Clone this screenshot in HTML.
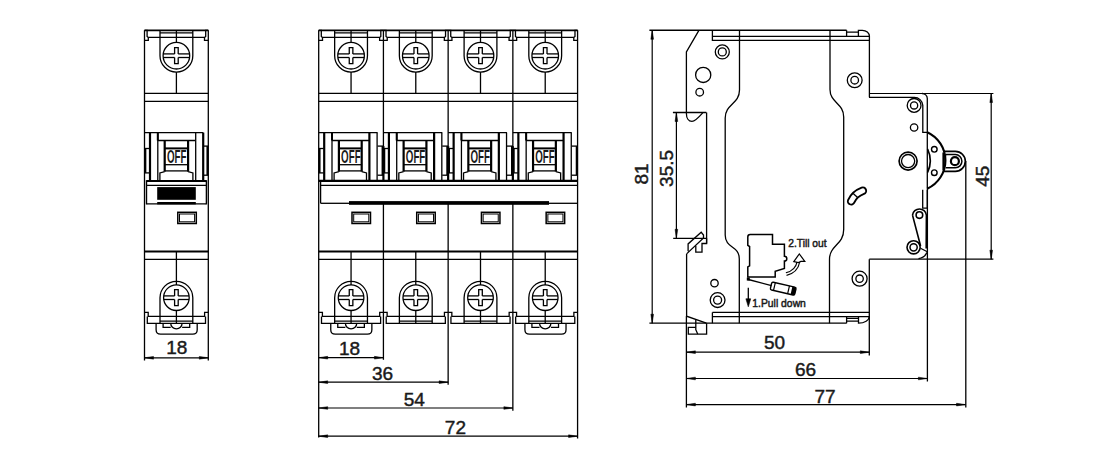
<!DOCTYPE html>
<html><head><meta charset="utf-8">
<style>
html,body{margin:0;padding:0;background:#fff;}
body{width:1100px;height:454px;overflow:hidden;}
svg{display:block;}
text{font-family:"Liberation Sans",sans-serif;fill:#1a1a1a;stroke:#1a1a1a;stroke-width:0.45px;}
.dim{font-size:19px;text-anchor:middle;}
.off{font-size:17.5px;font-weight:bold;stroke-width:0;}
.lbl{font-size:11.5px;stroke-width:0.5px;}
</style></head><body>
<svg width="1100" height="454" viewBox="0 0 1100 454">
<rect x="0" y="0" width="1100" height="454" fill="#fff"/>
<g stroke="#000" fill="none" stroke-linecap="butt" stroke-linejoin="miter">
<path d="M144.50,30.3 H147.10 V36.5 L148.30,37.5 V40.4 H144.50" stroke-width="1.3" fill="none"/>
<path d="M208.30,30.3 H205.70 V36.5 L204.50,37.5 V40.4 H208.30" stroke-width="1.3" fill="none"/>
<line x1="148.30" y1="37.30" x2="204.50" y2="37.30" stroke-width="1.3"/>
<path d="M160.00,30.3 V55.7 A16.4,16.4 0 0 0 192.80,55.7 V30.3" stroke-width="1.3" fill="none"/>
<line x1="160.00" y1="32.80" x2="192.80" y2="32.80" stroke-width="1.3"/>
<line x1="176.40" y1="30.30" x2="176.40" y2="42.40" stroke-width="1.3"/>
<line x1="176.40" y1="72.10" x2="176.40" y2="93.30" stroke-width="1.3"/>
<circle cx="176.40" cy="55.70" r="13.30" stroke-width="1.3" fill="none"/>
<line x1="163.22" y1="53.90" x2="174.60" y2="53.90" stroke-width="1.3"/>
<line x1="178.20" y1="53.90" x2="189.58" y2="53.90" stroke-width="1.3"/>
<line x1="163.22" y1="57.50" x2="174.60" y2="57.50" stroke-width="1.3"/>
<line x1="178.20" y1="57.50" x2="189.58" y2="57.50" stroke-width="1.3"/>
<path d="M174.60,53.90 V47.70 H178.20 V53.90" stroke-width="1.3" fill="none"/>
<path d="M174.60,57.50 V63.70 H178.20 V57.50" stroke-width="1.3" fill="none"/>
<line x1="144.50" y1="93.30" x2="208.30" y2="93.30" stroke-width="1.3"/>
<line x1="144.50" y1="101.30" x2="208.30" y2="101.30" stroke-width="1.3"/>
<line x1="144.50" y1="148.50" x2="149.50" y2="148.50" stroke-width="1.3"/>
<line x1="144.50" y1="172.90" x2="149.50" y2="172.90" stroke-width="1.3"/>
<line x1="145.40" y1="148.50" x2="145.40" y2="172.90" stroke-width="1.9"/>
<line x1="207.40" y1="146.10" x2="207.40" y2="175.20" stroke-width="1.9"/>
<line x1="144.50" y1="132.60" x2="203.30" y2="132.60" stroke-width="1.3"/>
<line x1="150.00" y1="132.60" x2="150.00" y2="180.80" stroke-width="2.2"/>
<line x1="157.80" y1="132.60" x2="157.80" y2="180.80" stroke-width="1.3"/>
<line x1="157.80" y1="132.60" x2="157.80" y2="140.50" stroke-width="2.0"/>
<line x1="157.80" y1="140.50" x2="195.20" y2="140.50" stroke-width="1.3"/>
<line x1="164.70" y1="140.50" x2="164.70" y2="171.60" stroke-width="2.2"/>
<line x1="188.10" y1="140.50" x2="188.10" y2="171.60" stroke-width="2.2"/>
<line x1="164.70" y1="148.40" x2="188.10" y2="148.40" stroke-width="2.0"/>
<line x1="164.70" y1="164.70" x2="188.10" y2="164.70" stroke-width="1.3"/>
<line x1="164.70" y1="170.90" x2="188.10" y2="170.90" stroke-width="1.3"/>
<path d="M164.70,171.6 L159.90,172.9 V180.8" stroke-width="1.3" fill="none"/>
<path d="M188.10,171.6 L192.90,172.9 V180.8" stroke-width="1.3" fill="none"/>
<line x1="195.70" y1="132.60" x2="195.70" y2="180.80" stroke-width="1.3"/>
<line x1="203.20" y1="132.60" x2="203.20" y2="180.80" stroke-width="2.2"/>
<line x1="203.30" y1="146.10" x2="208.30" y2="146.10" stroke-width="1.3"/>
<line x1="203.30" y1="175.20" x2="208.30" y2="175.20" stroke-width="1.3"/>
<text x="166.90" y="162.8" class="off" textLength="19.5" lengthAdjust="spacingAndGlyphs">OFF</text>
<rect x="177.80" y="212.30" width="18.50" height="11.20" stroke-width="1.5" fill="none"/>
<rect x="179.50" y="214.00" width="15.10" height="7.80" stroke-width="1.0" fill="none"/>
<line x1="144.50" y1="251.50" x2="208.30" y2="251.50" stroke-width="2.0"/>
<line x1="144.50" y1="259.30" x2="208.30" y2="259.30" stroke-width="1.3"/>
<line x1="176.40" y1="251.50" x2="176.40" y2="285.00" stroke-width="1.3"/>
<path d="M160.00,323.3 V297.7 A16.4,16.4 0 0 1 192.80,297.7 V323.3" stroke-width="1.3" fill="none"/>
<circle cx="176.40" cy="297.70" r="12.80" stroke-width="1.3" fill="none"/>
<line x1="163.73" y1="295.90" x2="174.60" y2="295.90" stroke-width="1.3"/>
<line x1="178.20" y1="295.90" x2="189.07" y2="295.90" stroke-width="1.3"/>
<line x1="163.73" y1="299.50" x2="174.60" y2="299.50" stroke-width="1.3"/>
<line x1="178.20" y1="299.50" x2="189.07" y2="299.50" stroke-width="1.3"/>
<path d="M174.60,295.90 V289.70 H178.20 V295.90" stroke-width="1.3" fill="none"/>
<path d="M174.60,299.50 V305.70 H178.20 V299.50" stroke-width="1.3" fill="none"/>
<line x1="176.40" y1="310.50" x2="176.40" y2="323.30" stroke-width="1.3"/>
<line x1="160.00" y1="321.20" x2="192.80" y2="321.20" stroke-width="1.3"/>
<path d="M144.50,312.4 H148.20 V316.4 H204.60 V312.4 H208.30" stroke-width="1.3" fill="none"/>
<path d="M147.30,316.4 V323.3 H205.50 V316.4" stroke-width="1.3" fill="none"/>
<path d="M156.10,323.3 V329.70 Q156.10,334.2 160.60,334.2 H192.70 Q197.20,334.2 197.20,329.70 V323.3" stroke-width="1.3" fill="none"/>
<path d="M163.10,323.3 V327.3 H170.70 M182.10,327.3 H189.70 V323.3" stroke-width="1.3" fill="none"/>
<path d="M170.70,323.3 A5.7,5.5 0 0 0 182.10,323.3" stroke-width="1.3" fill="none"/>
<line x1="144.50" y1="30.30" x2="208.30" y2="30.30" stroke-width="1.7"/>
<line x1="144.50" y1="30.30" x2="144.50" y2="360.40" stroke-width="1.3"/>
<line x1="208.30" y1="30.30" x2="208.30" y2="360.40" stroke-width="1.3"/>
<line x1="146.50" y1="181.10" x2="206.40" y2="181.10" stroke-width="2.0"/>
<line x1="146.50" y1="180.20" x2="146.50" y2="204.40" stroke-width="1.4"/>
<line x1="206.40" y1="180.20" x2="206.40" y2="204.40" stroke-width="1.4"/>
<line x1="146.50" y1="185.40" x2="206.40" y2="185.40" stroke-width="1.3"/>
<line x1="146.50" y1="203.80" x2="206.40" y2="203.80" stroke-width="1.3"/>
<rect x="157.20" y="187.10" width="38.60" height="12.70" stroke-width="0" fill="#000" stroke="none"/>
<rect x="157.20" y="202.00" width="38.60" height="2.40" stroke-width="0" fill="#000" stroke="none"/>
<line x1="144.50" y1="357.80" x2="208.30" y2="357.80" stroke-width="1.2"/>
<path d="M144.50,357.80 L153.50,356.45 L153.50,359.15 Z" stroke-width="0.5" fill="#000"/>
<path d="M208.30,357.80 L199.30,356.45 L199.30,359.15 Z" stroke-width="0.5" fill="#000"/>
<text x="176.80" y="354.30" class="dim">18</text>
<path d="M318.70,30.3 H321.30 V36.5 L322.50,37.5 V40.4 H318.70" stroke-width="1.3" fill="none"/>
<path d="M383.42,30.3 H380.82 V36.5 L379.62,37.5 V40.4 H383.42" stroke-width="1.3" fill="none"/>
<line x1="322.50" y1="37.30" x2="379.62" y2="37.30" stroke-width="1.3"/>
<path d="M334.66,30.3 V55.7 A16.4,16.4 0 0 0 367.46,55.7 V30.3" stroke-width="1.3" fill="none"/>
<line x1="334.66" y1="32.80" x2="367.46" y2="32.80" stroke-width="1.3"/>
<line x1="351.06" y1="30.30" x2="351.06" y2="42.40" stroke-width="1.3"/>
<line x1="351.06" y1="72.10" x2="351.06" y2="93.30" stroke-width="1.3"/>
<circle cx="351.06" cy="55.70" r="13.30" stroke-width="1.3" fill="none"/>
<line x1="337.88" y1="53.90" x2="349.26" y2="53.90" stroke-width="1.3"/>
<line x1="352.86" y1="53.90" x2="364.24" y2="53.90" stroke-width="1.3"/>
<line x1="337.88" y1="57.50" x2="349.26" y2="57.50" stroke-width="1.3"/>
<line x1="352.86" y1="57.50" x2="364.24" y2="57.50" stroke-width="1.3"/>
<path d="M349.26,53.90 V47.70 H352.86 V53.90" stroke-width="1.3" fill="none"/>
<path d="M349.26,57.50 V63.70 H352.86 V57.50" stroke-width="1.3" fill="none"/>
<line x1="318.70" y1="93.30" x2="383.42" y2="93.30" stroke-width="1.3"/>
<line x1="318.70" y1="101.30" x2="383.42" y2="101.30" stroke-width="1.3"/>
<line x1="318.70" y1="148.50" x2="323.70" y2="148.50" stroke-width="1.3"/>
<line x1="318.70" y1="172.90" x2="323.70" y2="172.90" stroke-width="1.3"/>
<line x1="319.60" y1="148.50" x2="319.60" y2="172.90" stroke-width="1.9"/>
<line x1="382.52" y1="146.10" x2="382.52" y2="175.20" stroke-width="1.9"/>
<line x1="318.70" y1="132.60" x2="377.50" y2="132.60" stroke-width="1.3"/>
<line x1="324.20" y1="132.60" x2="324.20" y2="180.80" stroke-width="2.2"/>
<line x1="332.00" y1="132.60" x2="332.00" y2="180.80" stroke-width="1.3"/>
<line x1="332.00" y1="132.60" x2="332.00" y2="140.50" stroke-width="2.0"/>
<line x1="332.00" y1="140.50" x2="369.40" y2="140.50" stroke-width="1.3"/>
<line x1="338.90" y1="140.50" x2="338.90" y2="171.60" stroke-width="2.2"/>
<line x1="361.70" y1="140.50" x2="361.70" y2="171.60" stroke-width="2.2"/>
<line x1="338.90" y1="148.40" x2="361.70" y2="148.40" stroke-width="2.0"/>
<line x1="338.90" y1="164.70" x2="361.70" y2="164.70" stroke-width="1.3"/>
<line x1="338.90" y1="170.90" x2="361.70" y2="170.90" stroke-width="1.3"/>
<path d="M338.90,171.6 L334.10,172.9 V180.8" stroke-width="1.3" fill="none"/>
<path d="M361.70,171.6 L366.50,172.9 V180.8" stroke-width="1.3" fill="none"/>
<line x1="369.40" y1="132.60" x2="369.40" y2="180.80" stroke-width="2.2"/>
<line x1="377.10" y1="132.60" x2="377.10" y2="180.80" stroke-width="1.3"/>
<line x1="377.50" y1="146.10" x2="383.42" y2="146.10" stroke-width="1.3"/>
<line x1="377.50" y1="175.20" x2="383.42" y2="175.20" stroke-width="1.3"/>
<text x="341.10" y="162.8" class="off" textLength="19.5" lengthAdjust="spacingAndGlyphs">OFF</text>
<rect x="352.00" y="212.30" width="18.50" height="11.20" stroke-width="1.5" fill="none"/>
<rect x="353.70" y="214.00" width="15.10" height="7.80" stroke-width="1.0" fill="none"/>
<line x1="318.70" y1="251.50" x2="383.42" y2="251.50" stroke-width="2.0"/>
<line x1="318.70" y1="259.30" x2="383.42" y2="259.30" stroke-width="1.3"/>
<line x1="351.06" y1="251.50" x2="351.06" y2="285.00" stroke-width="1.3"/>
<path d="M334.66,323.3 V297.7 A16.4,16.4 0 0 1 367.46,297.7 V323.3" stroke-width="1.3" fill="none"/>
<circle cx="351.06" cy="297.70" r="12.80" stroke-width="1.3" fill="none"/>
<line x1="338.39" y1="295.90" x2="349.26" y2="295.90" stroke-width="1.3"/>
<line x1="352.86" y1="295.90" x2="363.73" y2="295.90" stroke-width="1.3"/>
<line x1="338.39" y1="299.50" x2="349.26" y2="299.50" stroke-width="1.3"/>
<line x1="352.86" y1="299.50" x2="363.73" y2="299.50" stroke-width="1.3"/>
<path d="M349.26,295.90 V289.70 H352.86 V295.90" stroke-width="1.3" fill="none"/>
<path d="M349.26,299.50 V305.70 H352.86 V299.50" stroke-width="1.3" fill="none"/>
<line x1="351.06" y1="310.50" x2="351.06" y2="323.30" stroke-width="1.3"/>
<line x1="334.66" y1="321.20" x2="367.46" y2="321.20" stroke-width="1.3"/>
<path d="M318.70,312.4 H322.40 V316.4 H379.72 V312.4 H383.42" stroke-width="1.3" fill="none"/>
<path d="M321.50,316.4 V323.3 H380.62 V316.4" stroke-width="1.3" fill="none"/>
<path d="M330.76,323.3 V329.70 Q330.76,334.2 335.26,334.2 H367.36 Q371.86,334.2 371.86,329.70 V323.3" stroke-width="1.3" fill="none"/>
<path d="M337.76,323.3 V327.3 H345.36 M356.76,327.3 H364.36 V323.3" stroke-width="1.3" fill="none"/>
<path d="M345.36,323.3 A5.7,5.5 0 0 0 356.76,323.3" stroke-width="1.3" fill="none"/>
<path d="M383.42,30.3 H386.02 V36.5 L387.22,37.5 V40.4 H383.42" stroke-width="1.3" fill="none"/>
<path d="M448.14,30.3 H445.54 V36.5 L444.34,37.5 V40.4 H448.14" stroke-width="1.3" fill="none"/>
<line x1="387.22" y1="37.30" x2="444.34" y2="37.30" stroke-width="1.3"/>
<path d="M399.38,30.3 V55.7 A16.4,16.4 0 0 0 432.18,55.7 V30.3" stroke-width="1.3" fill="none"/>
<line x1="399.38" y1="32.80" x2="432.18" y2="32.80" stroke-width="1.3"/>
<line x1="415.78" y1="30.30" x2="415.78" y2="42.40" stroke-width="1.3"/>
<line x1="415.78" y1="72.10" x2="415.78" y2="93.30" stroke-width="1.3"/>
<circle cx="415.78" cy="55.70" r="13.30" stroke-width="1.3" fill="none"/>
<line x1="402.60" y1="53.90" x2="413.98" y2="53.90" stroke-width="1.3"/>
<line x1="417.58" y1="53.90" x2="428.96" y2="53.90" stroke-width="1.3"/>
<line x1="402.60" y1="57.50" x2="413.98" y2="57.50" stroke-width="1.3"/>
<line x1="417.58" y1="57.50" x2="428.96" y2="57.50" stroke-width="1.3"/>
<path d="M413.98,53.90 V47.70 H417.58 V53.90" stroke-width="1.3" fill="none"/>
<path d="M413.98,57.50 V63.70 H417.58 V57.50" stroke-width="1.3" fill="none"/>
<line x1="383.42" y1="93.30" x2="448.14" y2="93.30" stroke-width="1.3"/>
<line x1="383.42" y1="101.30" x2="448.14" y2="101.30" stroke-width="1.3"/>
<line x1="383.42" y1="148.50" x2="388.42" y2="148.50" stroke-width="1.3"/>
<line x1="383.42" y1="172.90" x2="388.42" y2="172.90" stroke-width="1.3"/>
<line x1="384.32" y1="148.50" x2="384.32" y2="172.90" stroke-width="1.9"/>
<line x1="447.24" y1="146.10" x2="447.24" y2="175.20" stroke-width="1.9"/>
<line x1="383.42" y1="132.60" x2="442.22" y2="132.60" stroke-width="1.3"/>
<line x1="388.92" y1="132.60" x2="388.92" y2="180.80" stroke-width="2.2"/>
<line x1="396.72" y1="132.60" x2="396.72" y2="180.80" stroke-width="1.3"/>
<line x1="396.72" y1="132.60" x2="396.72" y2="140.50" stroke-width="2.0"/>
<line x1="396.72" y1="140.50" x2="434.12" y2="140.50" stroke-width="1.3"/>
<line x1="403.62" y1="140.50" x2="403.62" y2="171.60" stroke-width="2.2"/>
<line x1="426.42" y1="140.50" x2="426.42" y2="171.60" stroke-width="2.2"/>
<line x1="403.62" y1="148.40" x2="426.42" y2="148.40" stroke-width="2.0"/>
<line x1="403.62" y1="164.70" x2="426.42" y2="164.70" stroke-width="1.3"/>
<line x1="403.62" y1="170.90" x2="426.42" y2="170.90" stroke-width="1.3"/>
<path d="M403.62,171.6 L398.82,172.9 V180.8" stroke-width="1.3" fill="none"/>
<path d="M426.42,171.6 L431.22,172.9 V180.8" stroke-width="1.3" fill="none"/>
<line x1="434.12" y1="132.60" x2="434.12" y2="180.80" stroke-width="2.2"/>
<line x1="441.82" y1="132.60" x2="441.82" y2="180.80" stroke-width="1.3"/>
<line x1="442.22" y1="146.10" x2="448.14" y2="146.10" stroke-width="1.3"/>
<line x1="442.22" y1="175.20" x2="448.14" y2="175.20" stroke-width="1.3"/>
<text x="405.82" y="162.8" class="off" textLength="19.5" lengthAdjust="spacingAndGlyphs">OFF</text>
<rect x="416.72" y="212.30" width="18.50" height="11.20" stroke-width="1.5" fill="none"/>
<rect x="418.42" y="214.00" width="15.10" height="7.80" stroke-width="1.0" fill="none"/>
<line x1="383.42" y1="251.50" x2="448.14" y2="251.50" stroke-width="2.0"/>
<line x1="383.42" y1="259.30" x2="448.14" y2="259.30" stroke-width="1.3"/>
<line x1="415.78" y1="251.50" x2="415.78" y2="285.00" stroke-width="1.3"/>
<path d="M399.38,323.3 V297.7 A16.4,16.4 0 0 1 432.18,297.7 V323.3" stroke-width="1.3" fill="none"/>
<circle cx="415.78" cy="297.70" r="12.80" stroke-width="1.3" fill="none"/>
<line x1="403.11" y1="295.90" x2="413.98" y2="295.90" stroke-width="1.3"/>
<line x1="417.58" y1="295.90" x2="428.45" y2="295.90" stroke-width="1.3"/>
<line x1="403.11" y1="299.50" x2="413.98" y2="299.50" stroke-width="1.3"/>
<line x1="417.58" y1="299.50" x2="428.45" y2="299.50" stroke-width="1.3"/>
<path d="M413.98,295.90 V289.70 H417.58 V295.90" stroke-width="1.3" fill="none"/>
<path d="M413.98,299.50 V305.70 H417.58 V299.50" stroke-width="1.3" fill="none"/>
<line x1="415.78" y1="310.50" x2="415.78" y2="323.30" stroke-width="1.3"/>
<line x1="399.38" y1="321.20" x2="432.18" y2="321.20" stroke-width="1.3"/>
<path d="M383.42,312.4 H387.12 V316.4 H444.44 V312.4 H448.14" stroke-width="1.3" fill="none"/>
<path d="M386.22,316.4 V323.3 H445.34 V316.4" stroke-width="1.3" fill="none"/>
<path d="M448.14,30.3 H450.74 V36.5 L451.94,37.5 V40.4 H448.14" stroke-width="1.3" fill="none"/>
<path d="M512.86,30.3 H510.26 V36.5 L509.06,37.5 V40.4 H512.86" stroke-width="1.3" fill="none"/>
<line x1="451.94" y1="37.30" x2="509.06" y2="37.30" stroke-width="1.3"/>
<path d="M464.10,30.3 V55.7 A16.4,16.4 0 0 0 496.90,55.7 V30.3" stroke-width="1.3" fill="none"/>
<line x1="464.10" y1="32.80" x2="496.90" y2="32.80" stroke-width="1.3"/>
<line x1="480.50" y1="30.30" x2="480.50" y2="42.40" stroke-width="1.3"/>
<line x1="480.50" y1="72.10" x2="480.50" y2="93.30" stroke-width="1.3"/>
<circle cx="480.50" cy="55.70" r="13.30" stroke-width="1.3" fill="none"/>
<line x1="467.32" y1="53.90" x2="478.70" y2="53.90" stroke-width="1.3"/>
<line x1="482.30" y1="53.90" x2="493.68" y2="53.90" stroke-width="1.3"/>
<line x1="467.32" y1="57.50" x2="478.70" y2="57.50" stroke-width="1.3"/>
<line x1="482.30" y1="57.50" x2="493.68" y2="57.50" stroke-width="1.3"/>
<path d="M478.70,53.90 V47.70 H482.30 V53.90" stroke-width="1.3" fill="none"/>
<path d="M478.70,57.50 V63.70 H482.30 V57.50" stroke-width="1.3" fill="none"/>
<line x1="448.14" y1="93.30" x2="512.86" y2="93.30" stroke-width="1.3"/>
<line x1="448.14" y1="101.30" x2="512.86" y2="101.30" stroke-width="1.3"/>
<line x1="448.14" y1="148.50" x2="453.14" y2="148.50" stroke-width="1.3"/>
<line x1="448.14" y1="172.90" x2="453.14" y2="172.90" stroke-width="1.3"/>
<line x1="449.04" y1="148.50" x2="449.04" y2="172.90" stroke-width="1.9"/>
<line x1="511.96" y1="146.10" x2="511.96" y2="175.20" stroke-width="1.9"/>
<line x1="448.14" y1="132.60" x2="506.94" y2="132.60" stroke-width="1.3"/>
<line x1="453.64" y1="132.60" x2="453.64" y2="180.80" stroke-width="2.2"/>
<line x1="461.44" y1="132.60" x2="461.44" y2="180.80" stroke-width="1.3"/>
<line x1="461.44" y1="132.60" x2="461.44" y2="140.50" stroke-width="2.0"/>
<line x1="461.44" y1="140.50" x2="498.84" y2="140.50" stroke-width="1.3"/>
<line x1="468.34" y1="140.50" x2="468.34" y2="171.60" stroke-width="2.2"/>
<line x1="491.14" y1="140.50" x2="491.14" y2="171.60" stroke-width="2.2"/>
<line x1="468.34" y1="148.40" x2="491.14" y2="148.40" stroke-width="2.0"/>
<line x1="468.34" y1="164.70" x2="491.14" y2="164.70" stroke-width="1.3"/>
<line x1="468.34" y1="170.90" x2="491.14" y2="170.90" stroke-width="1.3"/>
<path d="M468.34,171.6 L463.54,172.9 V180.8" stroke-width="1.3" fill="none"/>
<path d="M491.14,171.6 L495.94,172.9 V180.8" stroke-width="1.3" fill="none"/>
<line x1="498.84" y1="132.60" x2="498.84" y2="180.80" stroke-width="2.2"/>
<line x1="506.54" y1="132.60" x2="506.54" y2="180.80" stroke-width="1.3"/>
<line x1="506.94" y1="146.10" x2="512.86" y2="146.10" stroke-width="1.3"/>
<line x1="506.94" y1="175.20" x2="512.86" y2="175.20" stroke-width="1.3"/>
<text x="470.54" y="162.8" class="off" textLength="19.5" lengthAdjust="spacingAndGlyphs">OFF</text>
<rect x="481.44" y="212.30" width="18.50" height="11.20" stroke-width="1.5" fill="none"/>
<rect x="483.14" y="214.00" width="15.10" height="7.80" stroke-width="1.0" fill="none"/>
<line x1="448.14" y1="251.50" x2="512.86" y2="251.50" stroke-width="2.0"/>
<line x1="448.14" y1="259.30" x2="512.86" y2="259.30" stroke-width="1.3"/>
<line x1="480.50" y1="251.50" x2="480.50" y2="285.00" stroke-width="1.3"/>
<path d="M464.10,323.3 V297.7 A16.4,16.4 0 0 1 496.90,297.7 V323.3" stroke-width="1.3" fill="none"/>
<circle cx="480.50" cy="297.70" r="12.80" stroke-width="1.3" fill="none"/>
<line x1="467.83" y1="295.90" x2="478.70" y2="295.90" stroke-width="1.3"/>
<line x1="482.30" y1="295.90" x2="493.17" y2="295.90" stroke-width="1.3"/>
<line x1="467.83" y1="299.50" x2="478.70" y2="299.50" stroke-width="1.3"/>
<line x1="482.30" y1="299.50" x2="493.17" y2="299.50" stroke-width="1.3"/>
<path d="M478.70,295.90 V289.70 H482.30 V295.90" stroke-width="1.3" fill="none"/>
<path d="M478.70,299.50 V305.70 H482.30 V299.50" stroke-width="1.3" fill="none"/>
<line x1="480.50" y1="310.50" x2="480.50" y2="323.30" stroke-width="1.3"/>
<line x1="464.10" y1="321.20" x2="496.90" y2="321.20" stroke-width="1.3"/>
<path d="M448.14,312.4 H451.84 V316.4 H509.16 V312.4 H512.86" stroke-width="1.3" fill="none"/>
<path d="M450.94,316.4 V323.3 H510.06 V316.4" stroke-width="1.3" fill="none"/>
<path d="M512.86,30.3 H515.46 V36.5 L516.66,37.5 V40.4 H512.86" stroke-width="1.3" fill="none"/>
<path d="M577.58,30.3 H574.98 V36.5 L573.78,37.5 V40.4 H577.58" stroke-width="1.3" fill="none"/>
<line x1="516.66" y1="37.30" x2="573.78" y2="37.30" stroke-width="1.3"/>
<path d="M528.82,30.3 V55.7 A16.4,16.4 0 0 0 561.62,55.7 V30.3" stroke-width="1.3" fill="none"/>
<line x1="528.82" y1="32.80" x2="561.62" y2="32.80" stroke-width="1.3"/>
<line x1="545.22" y1="30.30" x2="545.22" y2="42.40" stroke-width="1.3"/>
<line x1="545.22" y1="72.10" x2="545.22" y2="93.30" stroke-width="1.3"/>
<circle cx="545.22" cy="55.70" r="13.30" stroke-width="1.3" fill="none"/>
<line x1="532.04" y1="53.90" x2="543.42" y2="53.90" stroke-width="1.3"/>
<line x1="547.02" y1="53.90" x2="558.40" y2="53.90" stroke-width="1.3"/>
<line x1="532.04" y1="57.50" x2="543.42" y2="57.50" stroke-width="1.3"/>
<line x1="547.02" y1="57.50" x2="558.40" y2="57.50" stroke-width="1.3"/>
<path d="M543.42,53.90 V47.70 H547.02 V53.90" stroke-width="1.3" fill="none"/>
<path d="M543.42,57.50 V63.70 H547.02 V57.50" stroke-width="1.3" fill="none"/>
<line x1="512.86" y1="93.30" x2="577.58" y2="93.30" stroke-width="1.3"/>
<line x1="512.86" y1="101.30" x2="577.58" y2="101.30" stroke-width="1.3"/>
<line x1="512.86" y1="148.50" x2="517.86" y2="148.50" stroke-width="1.3"/>
<line x1="512.86" y1="172.90" x2="517.86" y2="172.90" stroke-width="1.3"/>
<line x1="513.76" y1="148.50" x2="513.76" y2="172.90" stroke-width="1.9"/>
<line x1="576.68" y1="146.10" x2="576.68" y2="175.20" stroke-width="1.9"/>
<line x1="512.86" y1="132.60" x2="571.66" y2="132.60" stroke-width="1.3"/>
<line x1="518.36" y1="132.60" x2="518.36" y2="180.80" stroke-width="2.2"/>
<line x1="526.16" y1="132.60" x2="526.16" y2="180.80" stroke-width="1.3"/>
<line x1="526.16" y1="132.60" x2="526.16" y2="140.50" stroke-width="2.0"/>
<line x1="526.16" y1="140.50" x2="563.56" y2="140.50" stroke-width="1.3"/>
<line x1="533.06" y1="140.50" x2="533.06" y2="171.60" stroke-width="2.2"/>
<line x1="555.86" y1="140.50" x2="555.86" y2="171.60" stroke-width="2.2"/>
<line x1="533.06" y1="148.40" x2="555.86" y2="148.40" stroke-width="2.0"/>
<line x1="533.06" y1="164.70" x2="555.86" y2="164.70" stroke-width="1.3"/>
<line x1="533.06" y1="170.90" x2="555.86" y2="170.90" stroke-width="1.3"/>
<path d="M533.06,171.6 L528.26,172.9 V180.8" stroke-width="1.3" fill="none"/>
<path d="M555.86,171.6 L560.66,172.9 V180.8" stroke-width="1.3" fill="none"/>
<line x1="563.56" y1="132.60" x2="563.56" y2="180.80" stroke-width="2.2"/>
<line x1="571.26" y1="132.60" x2="571.26" y2="180.80" stroke-width="1.3"/>
<line x1="571.66" y1="146.10" x2="577.58" y2="146.10" stroke-width="1.3"/>
<line x1="571.66" y1="175.20" x2="577.58" y2="175.20" stroke-width="1.3"/>
<text x="535.26" y="162.8" class="off" textLength="19.5" lengthAdjust="spacingAndGlyphs">OFF</text>
<rect x="546.16" y="212.30" width="18.50" height="11.20" stroke-width="1.5" fill="none"/>
<rect x="547.86" y="214.00" width="15.10" height="7.80" stroke-width="1.0" fill="none"/>
<line x1="512.86" y1="251.50" x2="577.58" y2="251.50" stroke-width="2.0"/>
<line x1="512.86" y1="259.30" x2="577.58" y2="259.30" stroke-width="1.3"/>
<line x1="545.22" y1="251.50" x2="545.22" y2="285.00" stroke-width="1.3"/>
<path d="M528.82,323.3 V297.7 A16.4,16.4 0 0 1 561.62,297.7 V323.3" stroke-width="1.3" fill="none"/>
<circle cx="545.22" cy="297.70" r="12.80" stroke-width="1.3" fill="none"/>
<line x1="532.55" y1="295.90" x2="543.42" y2="295.90" stroke-width="1.3"/>
<line x1="547.02" y1="295.90" x2="557.89" y2="295.90" stroke-width="1.3"/>
<line x1="532.55" y1="299.50" x2="543.42" y2="299.50" stroke-width="1.3"/>
<line x1="547.02" y1="299.50" x2="557.89" y2="299.50" stroke-width="1.3"/>
<path d="M543.42,295.90 V289.70 H547.02 V295.90" stroke-width="1.3" fill="none"/>
<path d="M543.42,299.50 V305.70 H547.02 V299.50" stroke-width="1.3" fill="none"/>
<line x1="545.22" y1="310.50" x2="545.22" y2="323.30" stroke-width="1.3"/>
<line x1="528.82" y1="321.20" x2="561.62" y2="321.20" stroke-width="1.3"/>
<path d="M512.86,312.4 H516.56 V316.4 H573.88 V312.4 H577.58" stroke-width="1.3" fill="none"/>
<path d="M515.66,316.4 V323.3 H574.78 V316.4" stroke-width="1.3" fill="none"/>
<path d="M524.92,323.3 V329.70 Q524.92,334.2 529.42,334.2 H561.52 Q566.02,334.2 566.02,329.70 V323.3" stroke-width="1.3" fill="none"/>
<path d="M531.92,323.3 V327.3 H539.52 M550.92,327.3 H558.52 V323.3" stroke-width="1.3" fill="none"/>
<path d="M539.52,323.3 A5.7,5.5 0 0 0 550.92,323.3" stroke-width="1.3" fill="none"/>
<line x1="318.70" y1="30.30" x2="577.58" y2="30.30" stroke-width="1.7"/>
<line x1="318.70" y1="30.30" x2="318.70" y2="437.50" stroke-width="1.3"/>
<line x1="577.58" y1="30.30" x2="577.58" y2="438.50" stroke-width="1.3"/>
<line x1="383.42" y1="30.30" x2="383.42" y2="146.10" stroke-width="1.3"/>
<line x1="383.42" y1="146.10" x2="383.42" y2="180.80" stroke-width="2.2"/>
<line x1="383.42" y1="203.30" x2="383.42" y2="359.80" stroke-width="1.3"/>
<line x1="448.14" y1="30.30" x2="448.14" y2="146.10" stroke-width="1.3"/>
<line x1="448.14" y1="146.10" x2="448.14" y2="180.80" stroke-width="2.2"/>
<line x1="448.14" y1="203.30" x2="448.14" y2="384.80" stroke-width="1.3"/>
<line x1="512.86" y1="30.30" x2="512.86" y2="146.10" stroke-width="1.3"/>
<line x1="512.86" y1="146.10" x2="512.86" y2="180.80" stroke-width="2.2"/>
<line x1="512.86" y1="203.30" x2="512.86" y2="410.70" stroke-width="1.3"/>
<line x1="318.70" y1="180.90" x2="577.58" y2="180.90" stroke-width="2.2"/>
<line x1="320.60" y1="185.30" x2="577.58" y2="185.30" stroke-width="1.3"/>
<line x1="320.60" y1="180.90" x2="320.60" y2="203.30" stroke-width="1.3"/>
<line x1="320.60" y1="203.30" x2="349.70" y2="203.30" stroke-width="1.3"/>
<line x1="549.00" y1="203.30" x2="577.58" y2="203.30" stroke-width="1.3"/>
<rect x="349.00" y="201.10" width="200.00" height="3.70" stroke-width="0" fill="#000" stroke="none"/>
<line x1="318.70" y1="357.70" x2="383.42" y2="357.70" stroke-width="1.2"/>
<path d="M318.70,357.70 L327.70,356.35 L327.70,359.05 Z" stroke-width="0.5" fill="#000"/>
<path d="M383.42,357.70 L374.42,356.35 L374.42,359.05 Z" stroke-width="0.5" fill="#000"/>
<text x="349.60" y="354.50" class="dim">18</text>
<line x1="318.70" y1="382.20" x2="448.14" y2="382.20" stroke-width="1.2"/>
<path d="M318.70,382.20 L327.70,380.85 L327.70,383.55 Z" stroke-width="0.5" fill="#000"/>
<path d="M448.14,382.20 L439.14,380.85 L439.14,383.55 Z" stroke-width="0.5" fill="#000"/>
<text x="382.50" y="380.00" class="dim">36</text>
<line x1="318.70" y1="408.00" x2="512.86" y2="408.00" stroke-width="1.2"/>
<path d="M318.70,408.00 L327.70,406.65 L327.70,409.35 Z" stroke-width="0.5" fill="#000"/>
<path d="M512.86,408.00 L503.86,406.65 L503.86,409.35 Z" stroke-width="0.5" fill="#000"/>
<text x="414.20" y="405.90" class="dim">54</text>
<line x1="318.70" y1="436.20" x2="577.58" y2="436.20" stroke-width="1.2"/>
<path d="M318.70,436.20 L327.70,434.85 L327.70,437.55 Z" stroke-width="0.5" fill="#000"/>
<path d="M577.58,436.20 L568.58,434.85 L568.58,437.55 Z" stroke-width="0.5" fill="#000"/>
<text x="455.40" y="433.60" class="dim">72</text>
<line x1="649.40" y1="30.30" x2="846.60" y2="30.30" stroke-width="1.4"/>
<path d="M698.9,30.3 L686.4,51.9 V113.6 C686.4,118 688.5,121.4 692,121.4 C695.5,121.4 699.5,116.5 702.9,112.6" stroke-width="1.3" fill="none"/>
<line x1="672.90" y1="112.50" x2="706.40" y2="112.50" stroke-width="1.3"/>
<line x1="706.60" y1="112.50" x2="706.60" y2="243.50" stroke-width="1.3"/>
<line x1="673.20" y1="238.30" x2="706.40" y2="238.30" stroke-width="1.3"/>
<path d="M706.6,238.3 V243.5 H702 V252.1 H695.8 V245.8" stroke-width="1.3" fill="none"/>
<path d="M688.1,251.2 V243.9 L701.2,232.3 L703.5,235 V237.9 L686.6,253.9" stroke-width="1.3" fill="none"/>
<path d="M686.6,253.9 V316.2 L706.4,323.2" stroke-width="1.3" fill="none"/>
<path d="M706.6,323.2 V334.1 H688.3 V327.4 H695.8" stroke-width="1.3" fill="none"/>
<path d="M695.8,319.6 V329.7 L697.7,334.1" stroke-width="1.3" fill="none"/>
<line x1="649.40" y1="323.20" x2="846.60" y2="323.20" stroke-width="1.3"/>
<line x1="686.40" y1="316.20" x2="686.40" y2="407.50" stroke-width="1.3"/>
<path d="M712.4,30.3 V40.3 H869" stroke-width="1.3" fill="none"/>
<line x1="712.40" y1="36.30" x2="869.00" y2="36.30" stroke-width="1.3"/>
<path d="M846.6,30.3 V36.3 M846.6,32.2 H858.4 M858.4,36.3 V30.3 H862.4 A7,6 0 0 1 869.4,36.3 V97.3" stroke-width="1.3" fill="none"/>
<path d="M739.5,30.3 V90 C739.5,104 725.2,104 725.2,118 V235 C725.2,249 739.3,245 739.3,259 V323.2" stroke-width="1.3" fill="none"/>
<path d="M830,30.3 V89.4 C830,103 843.7,103 843.7,117 V229.5 C843.7,245 829.5,245 829.5,259.5 V323.2" stroke-width="1.3" fill="none"/>
<line x1="712.40" y1="312.40" x2="869.30" y2="312.40" stroke-width="1.3"/>
<line x1="712.40" y1="316.60" x2="869.30" y2="316.60" stroke-width="1.3"/>
<line x1="712.40" y1="312.40" x2="712.40" y2="323.20" stroke-width="1.3"/>
<path d="M846.6,316.6 V323.2 M846.6,318.3 H858.5 M846.6,321.2 H858.5 M858.5,316.6 V323.2 A10.8,6.6 0 0 0 869.3,316.6" stroke-width="1.3" fill="none"/>
<circle cx="722.30" cy="51.90" r="7.00" stroke-width="1.3" fill="none"/>
<circle cx="722.30" cy="51.90" r="4.00" stroke-width="1.3" fill="none"/>
<circle cx="703.20" cy="74.90" r="7.60" stroke-width="1.3" fill="none"/>
<circle cx="699.70" cy="92.20" r="3.80" stroke-width="1.3" fill="none"/>
<circle cx="714.50" cy="283.20" r="3.70" stroke-width="1.3" fill="none"/>
<circle cx="717.60" cy="300.10" r="7.40" stroke-width="1.3" fill="none"/>
<circle cx="717.60" cy="300.10" r="4.00" stroke-width="1.3" fill="none"/>
<circle cx="854.70" cy="80.20" r="7.40" stroke-width="1.3" fill="none"/>
<circle cx="854.70" cy="80.20" r="3.80" stroke-width="1.3" fill="none"/>
<circle cx="859.60" cy="278.70" r="7.50" stroke-width="1.3" fill="none"/>
<circle cx="859.60" cy="278.70" r="3.70" stroke-width="1.3" fill="none"/>
<line x1="869.00" y1="93.50" x2="993.40" y2="93.50" stroke-width="1.2"/>
<path d="M869,97.4 H914.1 A8.5,8.5 0 0 1 922.8,105.4 V132.4 H927.3 V98.5 A5,5 0 0 0 922,93.5" stroke-width="1.3" fill="none"/>
<circle cx="914.10" cy="105.40" r="6.90" stroke-width="1.3" fill="none"/>
<circle cx="914.10" cy="105.40" r="3.60" stroke-width="1.3" fill="none"/>
<circle cx="914.10" cy="127.50" r="3.70" stroke-width="1.3" fill="none"/>
<circle cx="908.10" cy="161.10" r="9.00" stroke-width="1.7" fill="none"/>
<circle cx="908.10" cy="161.10" r="6.60" stroke-width="1.3" fill="none"/>
<path d="M927.2,132.2 A31,31 0 0 1 927.2,188.7" stroke-width="2.1" fill="none"/>
<path d="M927.6,149 Q933,160.8 927.6,172.5" stroke-width="1.7" fill="none"/>
<line x1="927.30" y1="132.40" x2="927.30" y2="188.80" stroke-width="1.3"/>
<circle cx="934.30" cy="149.30" r="2.80" stroke-width="1.4" fill="none"/>
<circle cx="934.30" cy="172.70" r="2.80" stroke-width="1.4" fill="none"/>
<path d="M943.6,151.3 H955.3 A10.05,10.05 0 0 1 955.3,171.4 H943.6" stroke-width="1.7" fill="none"/>
<path d="M946.5,154.8 L945,155 M945.8,154.6 H955.3 A6.6,6.6 0 0 1 955.3,167.8 H945.8" stroke-width="1.5" fill="none"/>
<line x1="943.60" y1="152.50" x2="943.60" y2="170.20" stroke-width="2.4"/>
<circle cx="954.90" cy="161.20" r="4.00" stroke-width="2.2" fill="none"/>
<line x1="965.80" y1="161.00" x2="965.80" y2="407.60" stroke-width="1.3"/>
<path d="M922.7,189.7 V208.2 H927.3 V189.7" stroke-width="1.3" fill="none"/>
<line x1="927.40" y1="188.80" x2="927.40" y2="381.50" stroke-width="1.3"/>
<path d="M912.5,215.1 A7,7 0 0 1 926.4,215.1 L926.2,248.5 M912.5,215.1 L920.6,246" stroke-width="1.6" fill="none"/>
<circle cx="919.40" cy="215.10" r="3.30" stroke-width="1.6" fill="none"/>
<circle cx="913.60" cy="247.30" r="6.60" stroke-width="1.6" fill="none"/>
<circle cx="913.60" cy="247.30" r="3.60" stroke-width="1.5" fill="none"/>
<path d="M920.5,248.2 L927.3,251.8 M918.5,258.6 Q925,257.5 926.8,252.5" stroke-width="1.3" fill="none"/>
<line x1="869.30" y1="259.20" x2="993.40" y2="259.20" stroke-width="1.2"/>
<line x1="869.30" y1="259.20" x2="869.30" y2="355.40" stroke-width="1.3"/>
<path d="M851.2,201.2 Q854.5,194 862.8,190.8" stroke="#000" stroke-width="8.6" stroke-linecap="round" fill="none"/>
<path d="M851.2,201.2 Q854.5,194 862.8,190.8" stroke="#fff" stroke-width="4.8" stroke-linecap="round" fill="none"/>
<line x1="853.20" y1="193.60" x2="857.60" y2="197.60" stroke-width="1.3"/>
<line x1="652.20" y1="30.30" x2="652.20" y2="323.20" stroke-width="1.2"/>
<path d="M652.20,30.30 L650.85,39.30 L653.55,39.30 Z" stroke-width="0.5" fill="#000"/>
<path d="M652.20,323.20 L650.85,314.20 L653.55,314.20 Z" stroke-width="0.5" fill="#000"/>
<line x1="676.40" y1="112.50" x2="676.40" y2="238.30" stroke-width="1.2"/>
<path d="M676.40,112.50 L675.05,121.50 L677.75,121.50 Z" stroke-width="0.5" fill="#000"/>
<path d="M676.40,238.30 L675.05,229.30 L677.75,229.30 Z" stroke-width="0.5" fill="#000"/>
<line x1="991.20" y1="93.50" x2="991.20" y2="259.20" stroke-width="1.2"/>
<path d="M991.20,93.50 L989.85,102.50 L992.55,102.50 Z" stroke-width="0.5" fill="#000"/>
<path d="M991.20,259.20 L989.85,250.20 L992.55,250.20 Z" stroke-width="0.5" fill="#000"/>
<text x="0" y="0" class="dim" transform="translate(641.00,174.00) rotate(-90)" dominant-baseline="central">81</text>
<text x="0" y="0" class="dim" transform="translate(666.00,168.40) rotate(-90)" dominant-baseline="central">35.5</text>
<text x="0" y="0" class="dim" transform="translate(982.00,176.20) rotate(-90)" dominant-baseline="central">45</text>
<line x1="686.40" y1="352.20" x2="869.30" y2="352.20" stroke-width="1.2"/>
<path d="M686.40,352.20 L695.40,350.85 L695.40,353.55 Z" stroke-width="0.5" fill="#000"/>
<path d="M869.30,352.20 L860.30,350.85 L860.30,353.55 Z" stroke-width="0.5" fill="#000"/>
<text x="774.50" y="349.10" class="dim">50</text>
<line x1="686.40" y1="378.50" x2="927.40" y2="378.50" stroke-width="1.2"/>
<path d="M686.40,378.50 L695.40,377.15 L695.40,379.85 Z" stroke-width="0.5" fill="#000"/>
<path d="M927.40,378.50 L918.40,377.15 L918.40,379.85 Z" stroke-width="0.5" fill="#000"/>
<text x="805.50" y="376.00" class="dim">66</text>
<line x1="686.40" y1="404.60" x2="965.50" y2="404.60" stroke-width="1.2"/>
<path d="M686.40,404.60 L695.40,403.25 L695.40,405.95 Z" stroke-width="0.5" fill="#000"/>
<path d="M965.50,404.60 L956.50,403.25 L956.50,405.95 Z" stroke-width="0.5" fill="#000"/>
<text x="825.00" y="402.50" class="dim">77</text>
<path d="M747.8,237 Q747.8,234.6 750.2,234.6 H772.5 V244.2 H784.4 V256.3 A2.4,2.4 0 0 1 784.4,261.1 V268.4 L775.2,271.4 V277.0 H747.8 V267 L749.6,265.8 V246.5 L747.8,245.4 Z" stroke-width="1.5" fill="none"/>
<line x1="748.30" y1="279.50" x2="771.50" y2="285.60" stroke-width="1.4"/>
<g transform="translate(783.2,288.6) rotate(13)"><rect x="-12.5" y="-4" width="25" height="8" rx="1.5" stroke-width="1.4"/><rect x="8.5" y="-4" width="4" height="8" fill="#000" stroke="none"/><line x1="-9" y1="-4" x2="-9" y2="4" stroke-width="1.2"/><line x1="5.5" y1="-4" x2="5.5" y2="4" stroke-width="1.2"/></g>
<rect x="746.8" y="277.6" width="3" height="3" fill="#000" stroke="none"/>
<path d="M786.2,274.2 Q796.8,271.5 798.6,261" stroke-width="3.8" fill="none"/>
<path d="M785.7,274.2 Q796.6,271.7 798.4,262" stroke="#fff" stroke-width="1.4" fill="none"/>
<path d="M793.8,261.6 L799.3,253.9 L804.8,261.4 L800.9,261.4 L798.4,262.6 Z" stroke-width="1.2" fill="#fff"/>
<line x1="748.30" y1="287.80" x2="748.30" y2="300.00" stroke-width="1.3"/>
<path d="M745.9,298.8 L750.7,298.8 L748.3,306.8 Z" stroke-width="0.6" fill="#000"/>
<text x="788.2" y="246.8" class="lbl" textLength="38.4" lengthAdjust="spacingAndGlyphs">2.Till out</text>
<text x="752.3" y="307.4" class="lbl" textLength="53.6" lengthAdjust="spacingAndGlyphs">1.Pull down</text>
</g></svg></body></html>
